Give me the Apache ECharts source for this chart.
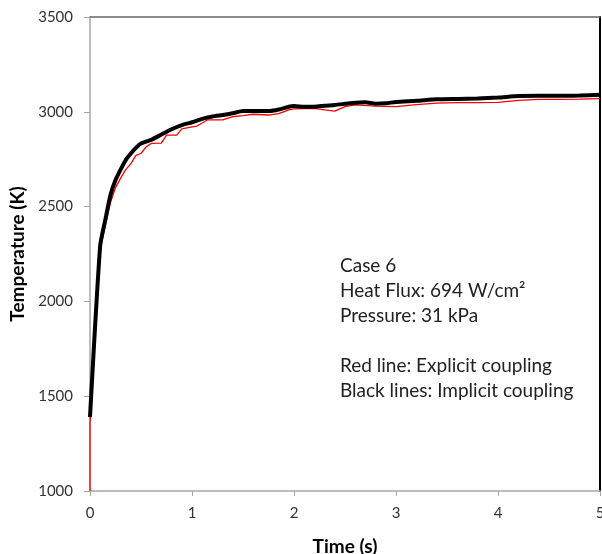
<!DOCTYPE html>
<html>
<head>
<meta charset="utf-8">
<script src="https://cdn.jsdelivr.net/npm/echarts@6/dist/echarts.min.js"></script>
<style>
  html, body { margin: 0; padding: 0; background: #fff; }
  #main { width: 602px; height: 554px; }
</style>
</head>
<body>
<div id="main"></div>
<script>
// values: time (s) and temperature (K)
var implicitTime = [0, 0.1, 0.15, 0.2, 0.25, 0.3, 0.35, 0.4, 0.45, 0.5, 0.6, 0.7, 0.8, 0.9, 1.0,
    1.1, 1.2, 1.3, 1.4, 1.5, 1.6, 1.75, 1.85, 1.95, 2.0, 2.1, 2.2, 2.3, 2.4, 2.5, 2.6, 2.7, 2.8,
    2.9, 3.0, 3.2, 3.4, 3.6, 3.8, 4.0, 4.2, 4.4, 4.6, 4.8, 5.0];
var implicitTemp = [1390, 2295, 2430, 2560, 2640, 2695, 2745, 2780, 2810, 2833, 2852, 2880, 2908, 2930, 2945,
    2963, 2975, 2983, 2992, 3004, 3004, 3004, 3012, 3027, 3030, 3027, 3027, 3032, 3036, 3042, 3048, 3050, 3043,
    3045, 3052, 3058, 3066, 3068, 3070, 3075, 3083, 3084, 3084, 3086, 3090];

var explicitTime = [0, 0, 0.1, 0.15, 0.2, 0.25, 0.3, 0.35, 0.4, 0.45, 0.5, 0.55, 0.6, 0.7, 0.75, 0.85,
    0.9, 1.0, 1.05, 1.15, 1.3, 1.4, 1.5, 1.6, 1.75, 1.85, 1.95, 2.0, 2.2, 2.3, 2.4, 2.5, 2.6, 2.8, 3.0,
    3.2, 3.4, 3.6, 3.8, 4.0, 4.2, 4.4, 4.6, 4.8, 5.0];
var explicitTemp = [1000, 1360, 2270, 2400, 2520, 2600, 2650, 2695, 2725, 2770, 2780, 2815, 2833, 2835, 2877, 2877,
    2910, 2920, 2925, 2957, 2957, 2974, 2980, 2987, 2983, 2990, 3010, 3015, 3018, 3010, 3004, 3027, 3036, 3030, 3027,
    3038, 3046, 3048, 3048, 3050, 3060, 3066, 3066, 3067, 3069];

var xTicks = [0, 1, 2, 3, 4, 5];
var yTicks = [1000, 1500, 2000, 2500, 3000, 3500];

var noteLines = ['Case 6', 'Heat Flux: 694 W/cm\u00b2', 'Pressure: 31 kPa', '', 'Red line: Explicit coupling', 'Black lines: Implicit coupling'];

function pairs(xs, ys) {
    return xs.map(function (x, i) { return [x, ys[i]]; });
}

var chart = echarts.init(document.getElementById('main'));
var labelFont = { color: '#333', fontFamily: 'Lato', fontSize: 15 };

chart.setOption({
    animation: false,
    grid: { left: 90, top: 17, right: 2, bottom: 63, containLabel: false, outerBoundsMode: 'none' },
    xAxis: [{
        type: 'value', min: 0, max: 5, interval: 1,
        name: 'Time (s)', nameLocation: 'middle', nameGap: 46,
        nameTextStyle: { fontFamily: 'Lato', fontWeight: 'bold', fontSize: 19, color: '#000' },
        axisLine: { onZero: false, lineStyle: { color: '#a6a6a6', width: 1.5 } },
        axisTick: { show: true, length: 5, lineStyle: { color: '#a6a6a6' } },
        axisLabel: Object.assign({ margin: 15, formatter: function (v) { return xTicks.indexOf(v) >= 0 ? v : ''; } }, labelFont),
        splitLine: { show: false }
    }, {
        type: 'value', position: 'top', min: 0, max: 5,
        axisLine: { onZero: false, lineStyle: { color: '#666', width: 1.5 } },
        axisTick: { show: false }, axisLabel: { show: false }, splitLine: { show: false }
    }],
    yAxis: [{
        type: 'value', min: 1000, max: 3500, interval: 500,
        name: 'Temperature (K)', nameLocation: 'middle', nameGap: 62, nameRotate: 90,
        nameTextStyle: { fontFamily: 'Lato', fontWeight: 'bold', fontSize: 19, color: '#000' },
        axisLine: { show: true, onZero: false, lineStyle: { color: '#a6a6a6', width: 1.5 } },
        axisTick: { show: true, length: 6, lineStyle: { color: '#a6a6a6' } },
        axisLabel: Object.assign({ margin: 17, formatter: function (v) { return yTicks.indexOf(v) >= 0 ? v : ''; } }, labelFont),
        splitLine: { show: false }
    }, {
        type: 'value', position: 'right', min: 1000, max: 3500,
        axisLine: { show: true, onZero: false, lineStyle: { color: '#000', width: 2 } },
        axisTick: { show: false }, axisLabel: { show: false }, splitLine: { show: false }
    }],
    series: [{
        name: 'Explicit coupling', type: 'line', showSymbol: false,
        data: pairs(explicitTime, explicitTemp),
        lineStyle: { color: '#ff0000', width: 1.3 }, z: 2
    }, {
        name: 'Implicit coupling', type: 'line', showSymbol: false, smooth: 0.2,
        data: pairs(implicitTime, implicitTemp),
        lineStyle: { color: '#000', width: 4 }, z: 3
    }],
    graphic: [{
        type: 'text', left: 340, top: 253,
        style: {
            text: noteLines.join('\n'),
            fontFamily: 'Lato', fontSize: 19, lineHeight: 25, fill: '#222'
        }
    }]
});
</script>
</body>
</html>
